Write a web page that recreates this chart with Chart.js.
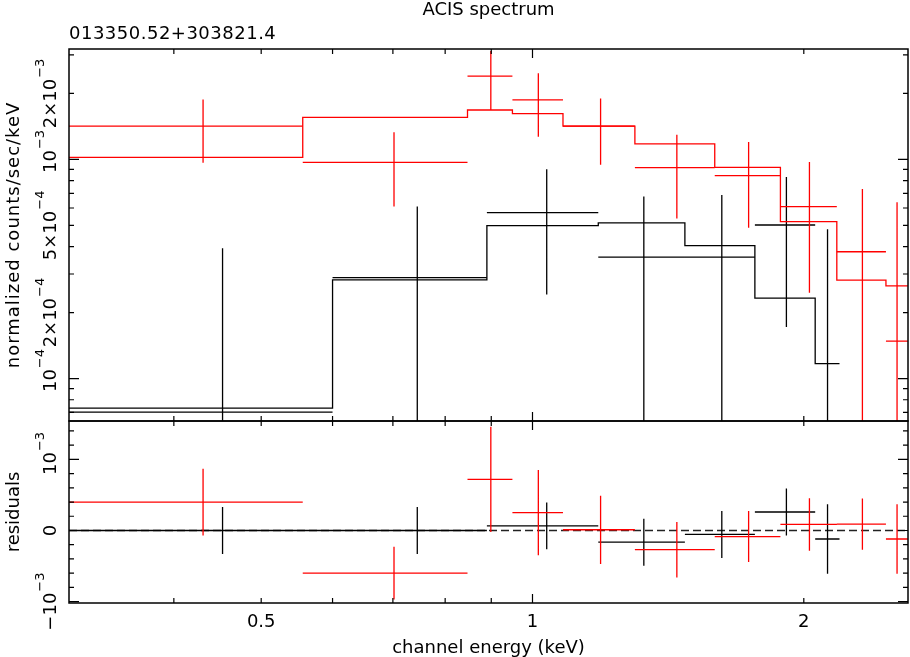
<!DOCTYPE html>
<html>
<head>
<meta charset="utf-8">
<script src="https://cdn.jsdelivr.net/npm/chart.js@4/dist/chart.umd.min.js"></script>
<style>
  html, body { margin: 0; padding: 0; background: #fff; }
  #wrap { position: relative; width: 910px; height: 657px; }
  #wrap canvas { position: absolute; left: 0; top: 0; }
</style>
</head>
<body>
<div id="wrap">
  <canvas id="spec" width="910" height="657"></canvas>
  <canvas id="resid" width="910" height="657"></canvas>
</div>
<script>
// Domaine des axes
const xMin = 0.306;
const xMax = 2.61;
const specMin = 6.4e-5;
const specMax = 3.19e-3;
const residMin = -1.02e-3;
const residMax = 1.54e-3;

// Spectre noir (bornes des canaux en keV, taux, erreurs, modèle, résidus)
const blackLo = [0.306, 0.600, 0.890, 1.183, 1.476, 1.765, 2.059];
const blackHi = [0.600, 0.890, 1.183, 1.476, 1.765, 2.059, 2.191];
const blackCenter = [0.453, 0.745, 1.037, 1.329, 1.622, 1.913, 2.125];
const blackRate = [0.703e-4, 2.89e-4, 5.72e-4, 3.58e-4, 3.58e-4, 5.02e-4, 0];
const blackErr = [3.23e-4, 3.20e-4, 3.30e-4, 3.20e-4, 3.30e-4, 3.30e-4, 4.80e-4];
const blackModel = [0.733e-4, 2.82e-4, 4.99e-4, 5.13e-4, 4.04e-4, 2.33e-4, 1.17e-4];
const blackResid = [0, 0, 0.065e-3, -0.165e-3, -0.056e-3, 0.26e-3, -0.12e-3];
const blackResidErr = [0.33e-3, 0.33e-3, 0.33e-3, 0.33e-3, 0.33e-3, 0.33e-3, 0.49e-3];

// Spectre rouge
const redLo = [0.306, 0.556, 0.847, 0.950, 1.081, 1.299, 1.593, 1.884, 2.176, 2.467];
const redHi = [0.556, 0.847, 0.950, 1.081, 1.299, 1.593, 1.884, 2.176, 2.467, 2.609];
const redCenter = [0.431, 0.702, 0.899, 1.015, 1.190, 1.446, 1.737, 2.029, 2.323, 2.538];
const redRate = [1.42e-3, 0.970e-3, 2.40e-3, 1.87e-3, 1.42e-3, 0.917e-3, 0.843e-3, 0.609e-3, 0.379e-3, 0.148e-3];
const redErr = [0.455e-3, 0.36e-3, 0.72e-3, 0.60e-3, 0.475e-3, 0.38e-3, 0.356e-3, 0.363e-3, 0.353e-3, 0.49e-3];
const redModel = [1.022e-3, 1.556e-3, 1.680e-3, 1.616e-3, 1.42e-3, 1.176e-3, 0.920e-3, 0.520e-3, 0.281e-3, 0.265e-3];
const redResid = [0.40e-3, -0.60e-3, 0.72e-3, 0.25e-3, 0.01e-3, -0.27e-3, -0.085e-3, 0.085e-3, 0.09e-3, -0.12e-3];
const redResidErr = [0.47e-3, 0.37e-3, 0.74e-3, 0.60e-3, 0.48e-3, 0.39e-3, 0.36e-3, 0.37e-3, 0.36e-3, 0.49e-3];

// Graduations
const xMajorTicks = [1];
const xMinorTicks = [0.4, 0.5, 0.6, 0.7, 0.8, 0.9, 2];
const xLabelValues = [0.5, 1, 2];
const xLabels = ['0.5', '1', '2'];
const specMajorTicks = [1e-4, 1e-3];
const specMinorTicks = [7e-5, 8e-5, 9e-5, 2e-4, 3e-4, 4e-4, 5e-4, 6e-4, 7e-4, 8e-4, 9e-4, 2e-3, 3e-3];
const specLabelValues = [1e-4, 2e-4, 5e-4, 1e-3, 2e-3];
const specLabels = ['10', '2×10', '5×10', '10', '2×10'];
const specLabelExp = ['−4', '−4', '−4', '−3', '−3'];
const residMajorTicks = [-1e-3, 0, 1e-3];
const residMinorTicks = [-0.8e-3, -0.6e-3, -0.4e-3, -0.2e-3, 0.2e-3, 0.4e-3, 0.6e-3, 0.8e-3, 1.2e-3, 1.4e-3];
const residLabelValues = [-1e-3, 0, 1e-3];
const residLabels = ['−10', '0', '10'];
const residLabelExp = ['−3', '', '−3'];

const FONT = '"DejaVu Sans", sans-serif';
const RED = '#ff0000';
const BLACK = '#000000';

// Croix d'erreur : barre horizontale (largeur du canal) + barre verticale
function crossPoints(lo, hi, center, val, err, floor) {
    const pts = [];
    for (let i = 0; i < center.length; i++) {
        const y = Math.max(val[i], floor);
        pts.push({ x: lo[i], y: y }, { x: hi[i], y: y }, { x: center[i], y: null });
        pts.push({ x: center[i], y: Math.max(val[i] - err[i], floor) },
                 { x: center[i], y: Math.max(val[i] + err[i], floor) },
                 { x: center[i], y: null });
    }
    return pts;
}

// Modèle en escalier
function stepPoints(lo, hi, val) {
    const pts = [];
    for (let i = 0; i < val.length; i++) {
        pts.push({ x: lo[i], y: val[i] }, { x: hi[i], y: val[i] });
    }
    return pts;
}

function lineSet(data, color, dash) {
    return {
        data: data,
        borderColor: color,
        borderWidth: 1.3,
        borderDash: dash || [],
        pointRadius: 0,
        fill: false,
        tension: 0,
        spanGaps: false
    };
}

// Cadre + graduations intérieures sur les quatre côtés
function framePlugin(yMajor, yMinor) {
    return {
        id: 'frame',
        afterDatasetsDraw(chart) {
            const ctx = chart.ctx;
            const a = chart.chartArea;
            const xs = chart.scales.x;
            const ys = chart.scales.y;
            ctx.save();
            ctx.strokeStyle = BLACK;
            ctx.lineWidth = 1.2;
            ctx.beginPath();
            const xt = xMajorTicks.map(v => [v, 9]).concat(xMinorTicks.map(v => [v, 5]));
            xt.forEach(([v, len]) => {
                const px = xs.getPixelForValue(v);
                ctx.moveTo(px, a.top); ctx.lineTo(px, a.top + len);
                ctx.moveTo(px, a.bottom); ctx.lineTo(px, a.bottom - len);
            });
            const yt = yMajor.map(v => [v, 10]).concat(yMinor.map(v => [v, 5]));
            yt.forEach(([v, len]) => {
                const py = ys.getPixelForValue(v);
                ctx.moveTo(a.left, py); ctx.lineTo(a.left + len, py);
                ctx.moveTo(a.right, py); ctx.lineTo(a.right - len, py);
            });
            ctx.stroke();
            ctx.lineWidth = 1.5;
            ctx.strokeRect(a.left, a.top, a.right - a.left, a.bottom - a.top);
            ctx.restore();
        }
    };
}

// Texte avec exposant, éventuellement tourné de 90°
function drawPower(ctx, main, exp, x, y, rotated) {
    ctx.save();
    ctx.translate(x, y);
    if (rotated) ctx.rotate(-Math.PI / 2);
    ctx.fillStyle = BLACK;
    ctx.textAlign = 'left';
    ctx.textBaseline = 'alphabetic';
    ctx.font = '18px ' + FONT;
    const w1 = ctx.measureText(main).width;
    ctx.font = '13px ' + FONT;
    const w2 = exp ? ctx.measureText(exp).width + 1 : 0;
    const u = -(w1 + w2) / 2;
    ctx.font = '18px ' + FONT;
    ctx.fillText(main, u, 0);
    if (exp) {
        ctx.font = '13px ' + FONT;
        ctx.fillText(exp, u + w1 + 1, -12);
    }
    ctx.restore();
}

function drawText(ctx, text, x, y, rotated, spacing) {
    ctx.save();
    ctx.translate(x, y);
    if (rotated) ctx.rotate(-Math.PI / 2);
    ctx.fillStyle = BLACK;
    ctx.font = '18px ' + FONT;
    ctx.textAlign = 'center';
    ctx.textBaseline = 'alphabetic';
    if (spacing) ctx.letterSpacing = spacing;
    ctx.fillText(text, 0, 0);
    ctx.restore();
}

const specText = {
    id: 'specText',
    afterDraw(chart) {
        const ctx = chart.ctx;
        const a = chart.chartArea;
        const ys = chart.scales.y;
        drawText(ctx, 'ACIS spectrum', (a.left + a.right) / 2, 15, false);
        ctx.save();
        ctx.fillStyle = BLACK;
        ctx.font = '18px ' + FONT;
        ctx.letterSpacing = '0.5px';
        ctx.textAlign = 'left';
        ctx.fillText('013350.52+303821.4', a.left, 39);
        ctx.restore();
        drawText(ctx, 'normalized counts/sec/keV', 18.5, (a.top + a.bottom) / 2, true, '1px');
        for (let i = 0; i < specLabelValues.length; i++) {
            const shift = specLabels[i].startsWith('10') ? -8 : 0;
            drawPower(ctx, specLabels[i], specLabelExp[i], 56, ys.getPixelForValue(specLabelValues[i]) + shift, true);
        }
    }
};

const residText = {
    id: 'residText',
    afterDraw(chart) {
        const ctx = chart.ctx;
        const a = chart.chartArea;
        const xs = chart.scales.x;
        const ys = chart.scales.y;
        drawText(ctx, 'residuals', 18.5, (a.top + a.bottom) / 2, true);
        for (let i = 0; i < residLabelValues.length; i++) {
            const shift = residLabels[i].startsWith('10') ? -6 : 0;
            drawPower(ctx, residLabels[i], residLabelExp[i], 56, ys.getPixelForValue(residLabelValues[i]) + shift, true);
        }
        for (let i = 0; i < xLabelValues.length; i++) {
            drawText(ctx, xLabels[i], xs.getPixelForValue(xLabelValues[i]), 627, false);
        }
        drawText(ctx, 'channel energy (keV)', (a.left + a.right) / 2, 653, false);
    }
};

// bounds: 'data' pour garder min/max exacts (sinon arrondis aux graduations)
const baseOptions = (padding, yScale) => ({
    responsive: false,
    animation: false,
    devicePixelRatio: 1,
    layout: { padding: padding, autoPadding: false },
    scales: {
        x: { type: 'logarithmic', bounds: 'data', min: xMin, max: xMax, display: false },
        y: yScale
    },
    plugins: {
        legend: { display: false },
        tooltip: { enabled: false }
    }
});

// Panneau du haut : spectre
new Chart(document.getElementById('spec'), {
    type: 'line',
    data: {
        datasets: [
            lineSet(crossPoints(redLo, redHi, redCenter, redRate, redErr, 1e-6), RED),
            lineSet(stepPoints(redLo, redHi, redModel), RED),
            lineSet(crossPoints(blackLo, blackHi, blackCenter, blackRate, blackErr, 1e-6), BLACK),
            lineSet(stepPoints(blackLo, blackHi, blackModel), BLACK)
        ]
    },
    options: baseOptions({ left: 69, right: 2, top: 49, bottom: 236 },
        { type: 'logarithmic', bounds: 'data', min: specMin, max: specMax, display: false }),
    plugins: [framePlugin(specMajorTicks, specMinorTicks), specText]
});

// Panneau du bas : résidus
new Chart(document.getElementById('resid'), {
    type: 'line',
    data: {
        datasets: [
            lineSet(crossPoints(redLo, redHi, redCenter, redResid, redResidErr, -1), RED),
            lineSet(crossPoints(blackLo, blackHi, blackCenter, blackResid, blackResidErr, -1), BLACK),
            lineSet([{ x: xMin, y: 0 }, { x: xMax, y: 0 }], '#222222', [8, 4])
        ]
    },
    options: baseOptions({ left: 69, right: 2, top: 421, bottom: 54 },
        { type: 'linear', bounds: 'data', min: residMin, max: residMax, display: false }),
    plugins: [framePlugin(residMajorTicks, residMinorTicks), residText]
});
</script>
</body>
</html>
